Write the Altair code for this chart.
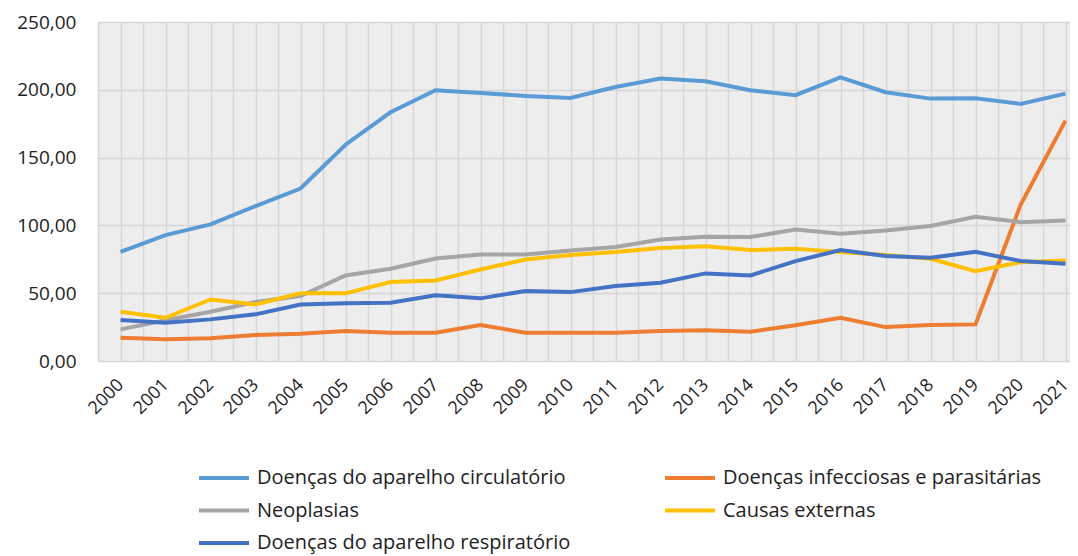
import altair as alt
import pandas as pd

years = list(range(2000, 2022))

series_names = [
    "Doenças do aparelho circulatório",
    "Doenças infecciosas e parasitárias",
    "Neoplasias",
    "Causas externas",
    "Doenças do aparelho respiratório",
]
series_colors = ["#5B9BD5", "#ED7D31", "#A5A5A5", "#FFC000", "#4472C4"]

circulatorio = [80.5, 92.8, 100.7, 114.2, 127.2, 159.5, 183.4, 199.7, 197.7, 195.5, 194.0,
                202.1, 208.3, 206.3, 199.7, 196.0, 209.2, 198.2, 193.5, 193.8, 189.6, 197.2]
infecciosas = [17.2, 16.0, 16.7, 19.2, 20.1, 22.1, 20.9, 20.9, 26.5, 20.9, 20.9,
               20.9, 22.1, 22.6, 21.6, 26.3, 31.9, 25.0, 26.5, 27.0, 115.0, 177.3]
neoplasias = [23.3, 30.0, 36.3, 43.5, 47.9, 63.1, 68.0, 75.6, 78.6, 78.6, 81.5,
              84.0, 89.6, 91.6, 91.4, 97.0, 93.8, 96.3, 99.5, 106.3, 102.4, 103.6]
externas = [36.3, 31.9, 45.4, 41.7, 49.9, 49.9, 58.2, 59.4, 67.5, 74.9, 78.1,
            80.3, 83.3, 84.7, 81.8, 82.8, 80.3, 78.1, 75.4, 66.3, 72.9, 74.2]
respiratorio = [30.2, 28.2, 30.7, 34.4, 41.7, 42.5, 43.0, 48.4, 46.2, 51.6, 50.8,
                55.3, 57.7, 64.6, 63.1, 73.7, 81.8, 77.4, 76.1, 80.5, 73.7, 71.7]

y_ticks = [0, 50, 100, 150, 200, 250]

all_values = [circulatorio, infecciosas, neoplasias, externas, respiratorio]
rows = []
for name, vals in zip(series_names, all_values):
    for yr, v in zip(years, vals):
        rows.append({"ano": yr, "valor": v, "serie": name})
df = pd.DataFrame(rows)

# legend lays entries out column by column: order them so rows read like the reference
legend_order = [0, 2, 4, 1, 3]
legend_names = [series_names[i] for i in legend_order]
legend_colors = [series_colors[i] for i in legend_order]

FONT = "Open Sans"
x_grid_values = [years[0] - 0.5 + 0.5 * i for i in range(2 * len(years) + 1)]

chart = alt.Chart(df).mark_line(strokeWidth=4).encode(
    x=alt.X(
        "ano:Q",
        scale=alt.Scale(domain=[years[0] - 0.5, years[-1] + 0.1], nice=False, zero=False),
        axis=alt.Axis(
            title=None,
            values=x_grid_values,
            labelExpr="datum.value % 1 == 0 ? datum.value : ''",
            labelAngle=-45,
            labelAlign="right",
            labelBaseline="middle",
            labelOffset=0,
            labelPadding=21,
            labelFont=FONT,
            labelFontSize=18,
            labelColor="#222222",
            ticks=False,
            domain=False,
            grid=True,
            gridColor="#d6d6d6",
            gridWidth=1.5,
            labelOverlap=False,
            labelBound=False,
            labelFlush=False,
        ),
    ),
    y=alt.Y(
        "valor:Q",
        scale=alt.Scale(domain=[0, 250], nice=False),
        axis=alt.Axis(
            title=None,
            values=y_ticks,
            labelExpr="replace(format(datum.value, '.2f'), '.', ',')",
            labelFont=FONT,
            labelFontSize=19,
            labelColor="#222222",
            labelPadding=22,
            ticks=False,
            domain=False,
            grid=True,
            gridColor="#d6d6d6",
            gridWidth=1.5,
        ),
    ),
    color=alt.Color(
        "serie:N",
        scale=alt.Scale(domain=legend_names, range=legend_colors),
        legend=alt.Legend(
            title=None,
            orient="none",
            legendX=116,
            legendY=446,
            columns=2,
            columnPadding=86,
            rowPadding=12.5,
            symbolType="M-5,0H5",
            symbolSize=100,
            symbolStrokeWidth=4,
            labelFont=FONT,
            labelFontSize=20,
            labelColor="#222222",
            labelOffset=23,
            labelLimit=500,
        ),
    ),
).properties(
    width=972,
    height=339,
    autosize=alt.AutoSizeParams(type="none"),
    padding={"left": 90, "top": 14, "right": 0, "bottom": 194},
).configure_view(
    fill="#ededed",
    stroke=None,
)

chart.save("out.html", embed_options={"renderer": "svg", "actions": False})
